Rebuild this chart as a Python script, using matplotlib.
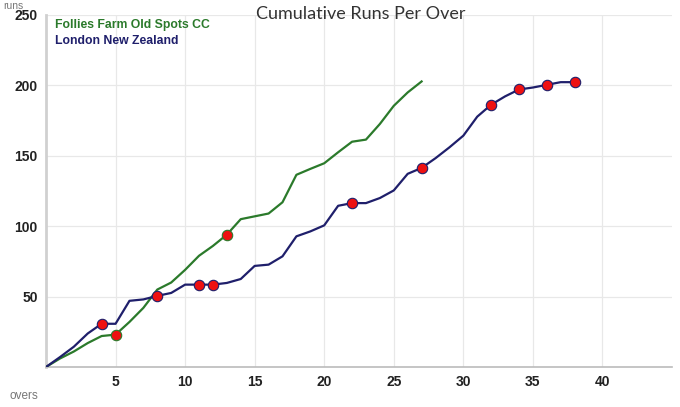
import matplotlib.pyplot as plt

plt.rcParams['font.family'] = ['Liberation Sans', 'DejaVu Sans']

overs_a = list(range(0, 28))
runs_a = [0, 6, 11, 17, 22, 23, 32, 42, 55, 60, 69, 79, 86, 94, 105, 107, 109, 117,
          136.5, 140.7, 144.7, 152.5, 160, 161.5, 172.6, 185.5, 195, 202.8]
wickets_a = [5, 13]

overs_b = list(range(0, 39))
runs_b = [0, 7, 14.4, 23.8, 30.7, 30.7, 47, 48, 50.5, 52.6, 58.5, 58.5, 58.5, 59.7,
          62.5, 71.8, 72.7, 78.6, 92.8, 96.3, 100.6, 114.5, 116.4, 116.4, 120, 125.4,
          137.2, 141.4, 148.3, 156, 164.3, 177.8, 186.3, 192.2, 197.1, 198.5, 200.4,
          202.3, 202.3]
wickets_b = [4, 8, 11, 12, 22, 27, 32, 34, 36, 38]

team_a = "Follies Farm Old Spots CC"
team_b = "London New Zealand"
green = '#2b7a2b'
navy = '#1f1f6b'

fig = plt.figure(figsize=(6.8, 4.07), dpi=100)
ax = fig.add_axes([46 / 680, 1 - 367 / 407, 626 / 680, 352 / 407])

ax.plot(overs_a, runs_a, color=green, lw=1.6, zorder=3)
ax.plot(overs_b, runs_b, color=navy, lw=1.6, zorder=3)
ax.plot(wickets_a, [runs_a[o] for o in wickets_a], 'o', color='#ee1111',
        mec=green, mew=0.8, ms=7.5, zorder=4)
ax.plot(wickets_b, [runs_b[o] for o in wickets_b], 'o', color='#ee1111',
        mec=navy, mew=0.8, ms=7.5, zorder=4)

ax.set_xlim(0, 45)
ax.set_ylim(0, 250)
ax.set_xticks(range(5, 45, 5))
ax.set_yticks(range(50, 300, 50))
ax.grid(color='#e8e8e8', lw=0.9)
ax.set_axisbelow(True)
ax.tick_params(length=0, labelsize=10, labelcolor='#222222', pad=6)
for lab in ax.get_xticklabels() + ax.get_yticklabels():
    lab.set_fontweight('bold')
for s in ['top', 'right']:
    ax.spines[s].set_visible(False)
ax.spines['left'].set_color('#d0d0d0')
ax.spines['left'].set_linewidth(2)
ax.spines['bottom'].set_color('#bbbbbb')
ax.spines['bottom'].set_linewidth(1.2)

fig.text(55 / 680, 1 - 25 / 407, team_a, color=green,
         fontsize=8.8, fontweight='bold', va='center')
fig.text(55 / 680, 1 - 41 / 407, team_b, color=navy,
         fontsize=8.8, fontweight='bold', va='center')

fig.text(361 / 680, 1 - 19 / 407, "Cumulative Runs Per Over", ha='center',
         va='baseline', fontsize=13, color='#333333', family='Lato')
fig.text(3 / 680, 1 - 6 / 407, "runs", ha='left', va='center', fontsize=7.5,
         color='#777777')
fig.text(10 / 680, 1 - 396 / 407, "overs", ha='left', va='center', fontsize=8.5,
         color='#777777')

fig.savefig('out.png', dpi=100)
